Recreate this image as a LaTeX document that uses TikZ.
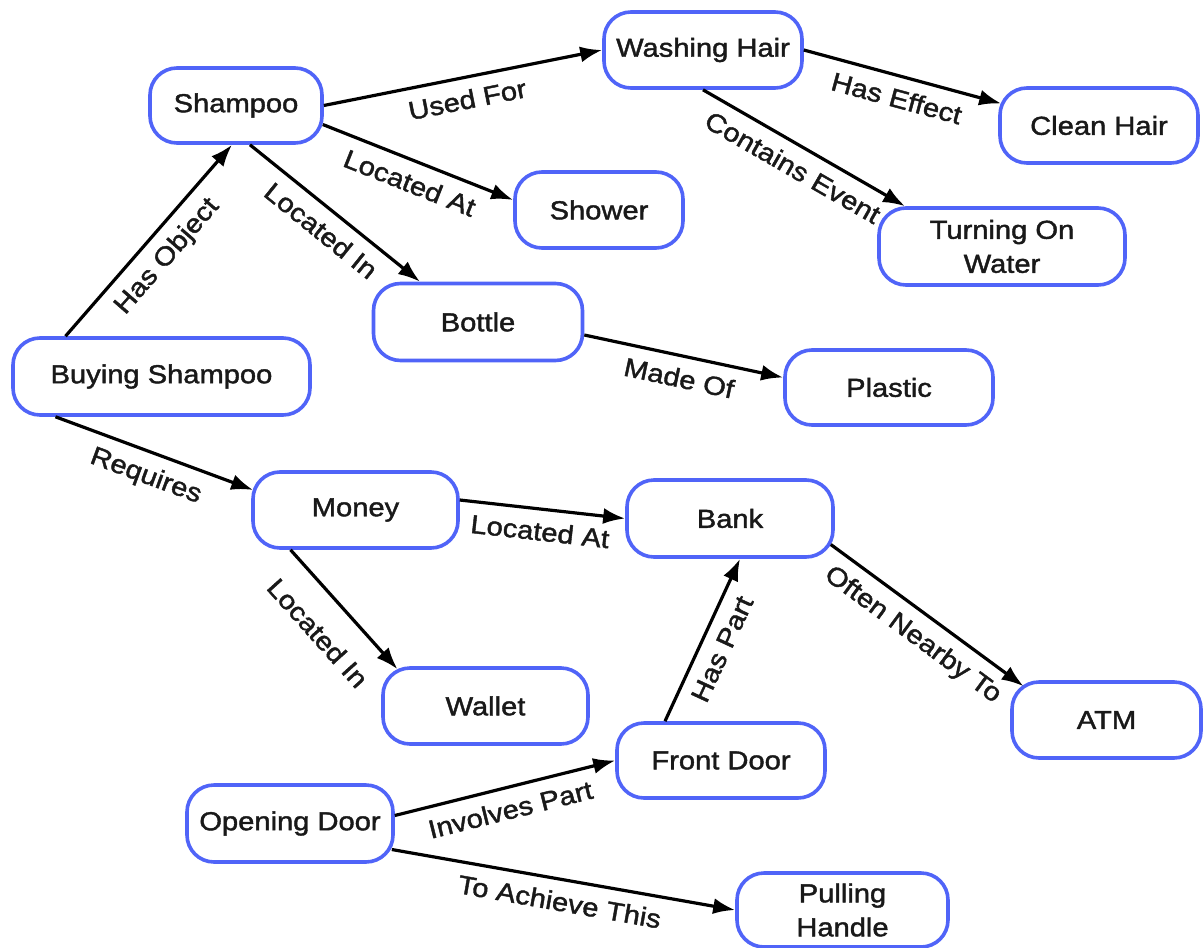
\documentclass[tikz,border=0pt]{standalone}
\usepackage{fontspec}
\setmainfont{Liberation Sans}[FakeStretch=1.12,FakeBold=1.6]
\usetikzlibrary{arrows.meta}
\definecolor{nodeblue}{RGB}{80,100,248}
\definecolor{txt}{RGB}{25,25,25}
\tikzset{
  concept/.style={draw=nodeblue, line width=3.6pt, rounded corners=27pt, fill=white,
    text=txt, align=center, inner sep=0pt, font=\fontsize{26}{34}\selectfont},
  rel/.style={draw=black, line width=3.2pt, -{Latex[length=22pt,width=16pt]}},
  lab/.style={sloped, below=10pt, inner sep=1pt, text=txt, font=\fontsize{26}{34}\selectfont}
}
\begin{document}
\begin{tikzpicture}[x=1pt,y=-1pt]
\useasboundingbox (0,0) rectangle (1203,948);
% nodes
\node[concept, minimum width=172pt, minimum height=75pt] (shampoo) at (236,105.5) {Shampoo};
\node[concept, minimum width=198pt, minimum height=76pt] (wash) at (703,50) {Washing Hair};
\node[concept, minimum width=198pt, minimum height=75pt] (clean) at (1099,125.5) {Clean Hair};
\node[concept, minimum width=168pt, minimum height=76pt] (shower) at (599,210) {Shower};
\node[concept, minimum width=246pt, minimum height=77pt] (turning) at (1002,246.5) {Turning On\\Water};
\node[concept, minimum width=209pt, minimum height=77pt] (bottle) at (478,322) {Bottle};
\node[concept, minimum width=208pt, minimum height=75pt] (plastic) at (889,387.5) {Plastic};
\node[concept, minimum width=297pt, minimum height=77pt] (buying) at (161.5,376.5) {Buying Shampoo};
\node[concept, minimum width=205pt, minimum height=76pt] (money) at (355.5,510) {Money};
\node[concept, minimum width=206pt, minimum height=77pt] (bank) at (730,518.5) {Bank};
\node[concept, minimum width=205pt, minimum height=76pt] (wallet) at (485.5,706) {Wallet};
\node[concept, minimum width=189pt, minimum height=76pt] (atm) at (1106.5,720) {ATM};
\node[concept, minimum width=208pt, minimum height=75pt] (front) at (721,760.5) {Front Door};
\node[concept, minimum width=206pt, minimum height=77pt] (opening) at (290,823.5) {Opening Door};
\node[concept, minimum width=211pt, minimum height=74pt] (pulling) at (842.5,910) {Pulling\\Handle};
% connectors
\draw[rel] (shampoo.east) -- node[lab] {Used For} (wash.west);
\draw[rel] (wash.east) -- node[lab] {Has Effect} ([xshift=3pt,yshift=22pt]clean.west);
\draw[rel] (wash.south) -- node[lab] {Contains Event} ([xshift=-97pt]turning.north);
\draw[rel] ([xshift=-1pt,yshift=-19pt]shampoo.east) -- node[lab] {Located At} ([yshift=10pt]shower.west);
\draw[rel] ([xshift=14pt]shampoo.south) -- node[lab] {Located In} ([xshift=-58pt]bottle.north);
\draw[rel] ([xshift=-96pt]buying.north) -- node[lab] {Has Object} ([xshift=-4pt]shampoo.south);
\draw[rel] ([yshift=-13pt]bottle.east) -- node[lab] {Made Of} ([yshift=10pt]plastic.west);
\draw[rel] ([xshift=-106pt]buying.south) -- node[lab] {Requires} ([xshift=2pt,yshift=20pt]money.west);
\draw[rel] ([yshift=10pt]money.east) -- node[lab] {Located At} (bank.west);
\draw[rel] ([xshift=-65pt]money.south) -- node[lab, below=13pt] {Located In} ([xshift=-88pt,yshift=-3pt]wallet.north);
\draw[rel] ([xshift=-4pt,yshift=-26pt]bank.east) -- node[lab] {Often Nearby To} ([xshift=-83pt,yshift=-6pt]atm.north);
\draw[rel] ([xshift=-56pt]front.north) -- node[lab] {Has Part} ([xshift=10pt]bank.south);
\draw[rel] ([yshift=8pt]opening.east) -- node[lab] {Involves Part} (front.west);
\draw[rel] ([xshift=-3pt,yshift=-26pt]opening.east) -- node[lab] {To Achieve This} (pulling.west);
\end{tikzpicture}
\end{document}
